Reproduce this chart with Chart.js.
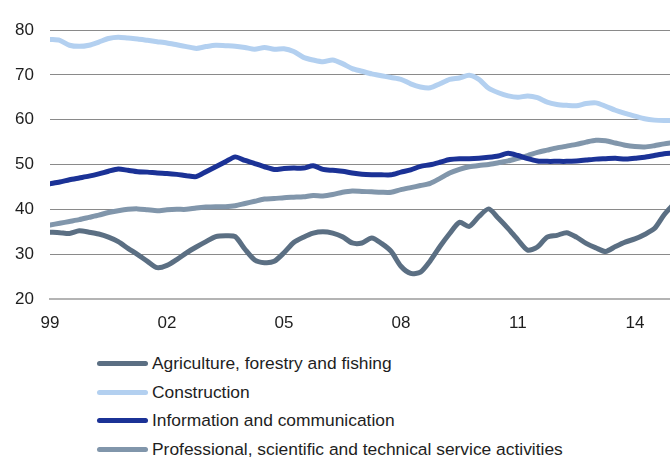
<!DOCTYPE html>
<html>
<head>
  <script src="https://cdn.jsdelivr.net/npm/chart.js"></script>
  <style>
    body { margin: 0; background: #fff; font-family: "Liberation Sans", Arial, sans-serif; }
    #wrap { position: relative; width: 670px; height: 457px; overflow: hidden; }
    #lineChart { position: absolute; left: 0; top: 0; }
    #legend { position: absolute; left: 97px; top: 349px; }
    .item { display: flex; align-items: center; height: 28.7px; font-size: 17.4px; color: #1e1e1e; }
    .swatch { display: inline-block; width: 51px; height: 5px; border-radius: 3px; margin-right: 4px; }
  </style>
</head>
<body>
  <div id="wrap">
    <canvas id="lineChart" width="670" height="345"></canvas>
    <div id="legend"></div>
  </div>
  <script>
    // quarterly series, 1999 Q1 onwards
    const yearLabels = ['99', '02', '05', '08', '11', '14'];

    const agriculture = [34.9, 34.8, 34.6, 35.2, 34.9, 34.5, 33.8, 32.8, 31.3, 29.9, 28.4, 27.0, 27.5, 28.8, 30.3, 31.6,
      32.8, 33.9, 34.1, 33.9, 31.1, 28.7, 28.1, 28.4, 30.3, 32.6, 33.8, 34.7, 35.0, 34.7, 33.9, 32.5,
      32.5, 33.6, 32.4, 30.6, 27.3, 25.7, 26.0, 28.5, 31.7, 34.6, 37.1, 36.2, 38.4, 40.1, 38.0, 35.7,
      33.2, 30.9, 31.6, 33.8, 34.2, 34.8, 33.8, 32.4, 31.4, 30.6, 31.7, 32.7, 33.4, 34.4, 35.7, 38.8, 41.2];

    const construction = [77.9, 77.7, 76.6, 76.35, 76.6, 77.3, 78.1, 78.4, 78.2, 78.0, 77.7, 77.4, 77.1, 76.7, 76.3, 75.9,
      76.3, 76.6, 76.5, 76.4, 76.1, 75.7, 76.1, 75.7, 75.8, 75.2, 73.9, 73.3, 72.9, 73.3, 72.5, 71.4,
      70.8, 70.2, 69.8, 69.4, 69.0, 68.0, 67.3, 67.1, 68.0, 69.0, 69.3, 69.9, 69.0, 67.0, 66.0, 65.3,
      65.0, 65.3, 64.9, 63.9, 63.4, 63.2, 63.1, 63.6, 63.75, 63.0, 62.1, 61.4, 60.8, 60.2, 59.9, 59.8, 59.8];

    const information = [45.7, 46.1, 46.6, 47.0, 47.4, 47.9, 48.5, 49.0, 48.7, 48.4, 48.3, 48.1, 48.0, 47.8, 47.5, 47.3,
      48.4, 49.5, 50.6, 51.7, 50.9, 50.2, 49.5, 48.9, 49.1, 49.2, 49.2, 49.7, 48.9, 48.7, 48.5, 48.1,
      47.8, 47.7, 47.7, 47.7, 48.3, 48.8, 49.6, 49.95, 50.5, 51.1, 51.3, 51.3, 51.4, 51.6, 51.9, 52.5,
      52.0, 51.3, 50.8, 50.7, 50.7, 50.7, 50.8, 51.0, 51.2, 51.3, 51.4, 51.2, 51.4, 51.6, 52.0, 52.4, 52.6];

    const professional = [36.5, 36.9, 37.3, 37.7, 38.2, 38.7, 39.3, 39.7, 40.0, 40.1, 39.9, 39.7, 39.9, 40.0, 40.0, 40.3,
      40.5, 40.6, 40.6, 40.8, 41.3, 41.8, 42.3, 42.4, 42.6, 42.7, 42.8, 43.1, 43.0, 43.3, 43.8, 44.1,
      44.0, 43.9, 43.8, 43.8, 44.4, 44.85, 45.3, 45.8, 46.9, 48.1, 48.9, 49.5, 49.8, 50.0, 50.4, 50.8,
      51.4, 52.0, 52.7, 53.2, 53.7, 54.1, 54.5, 55.0, 55.4, 55.3, 54.8, 54.3, 54.0, 53.9, 54.2, 54.6, 54.9];

    function toPoints(values) {
      return values.map((v, i) => ({ x: i, y: v }));
    }

    function makeSet(label, values, color) {
      return {
        label: label,
        data: toPoints(values),
        borderColor: color,
        backgroundColor: color,
        borderWidth: 5,
        pointRadius: 0,
        tension: 0.25,
        borderCapStyle: 'round',
        borderJoinStyle: 'round'
      };
    }

    const datasets = [
      makeSet('Agriculture, forestry and fishing', agriculture, '#5b6f83'),
      makeSet('Construction', construction, '#b3d0f0'),
      makeSet('Information and communication', information, '#1b3296'),
      makeSet('Professional, scientific and technical service activities', professional, '#8196ab')
    ];

    const ctx = document.getElementById('lineChart').getContext('2d');
    const myChart = new Chart(ctx, {
      type: 'line',
      data: { datasets: datasets },
      options: {
        responsive: false,
        animation: false,
        layout: { padding: { top: 30, right: 0, left: 0, bottom: 0 } },
        plugins: {
          legend: { display: false },
          tooltip: { enabled: false }
        },
        scales: {
          x: {
            type: 'linear',
            min: 0,
            max: 63.6,
            afterBuildTicks: (scale) => {
              scale.ticks = yearLabels.map((_, i) => ({ value: i * 12 }));
            },
            afterFit: (scale) => { scale.height = 46; },
            grid: { display: false, drawTicks: false },
            border: { display: true, color: '#b4b4b4', width: 2 },
            ticks: {
              padding: 14,
              maxRotation: 0,
              color: '#1e1e1e',
              font: { family: 'Liberation Sans', size: 17 },
              callback: (value) => yearLabels[Math.round(value / 12)]
            }
          },
          y: {
            min: 20,
            max: 80,
            afterFit: (scale) => { scale.width = 50; },
            grid: {
              drawTicks: false,
              color: (c) => c.tick.value === 20 ? 'rgba(0,0,0,0)' : '#8a8a8a',
              lineWidth: 1
            },
            border: { display: false },
            ticks: {
              stepSize: 10,
              padding: 16,
              color: '#1e1e1e',
              font: { family: 'Liberation Sans', size: 17 }
            }
          }
        }
      }
    });

    // legend stacked under the plot
    const legend = document.getElementById('legend');
    datasets.forEach(ds => {
      const row = document.createElement('div');
      row.className = 'item';
      row.innerHTML = '<span class="swatch" style="background:' + ds.borderColor + '"></span>' + ds.label;
      legend.appendChild(row);
    });
  </script>
</body>
</html>
